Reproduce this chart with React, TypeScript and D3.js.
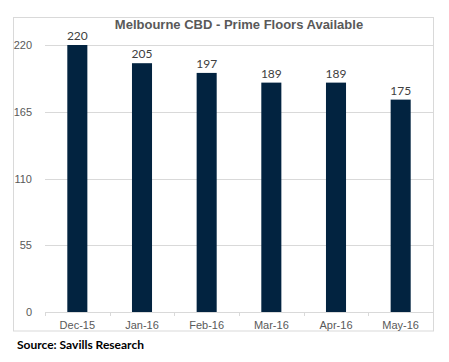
import * as d3 from "d3"
import { useEffect, useRef } from "react"

const months = ["Dec-15", "Jan-16", "Feb-16", "Mar-16", "Apr-16", "May-16"]
const floors = [220, 205, 197, 189, 189, 175]
const yTicks = [0, 55, 110, 165, 220]

export default function App() {
  const ref = useRef<SVGSVGElement>(null)

  useEffect(() => {
    const svg = d3.select(ref.current)
    svg.selectAll("*").remove()

    const width = 449, height = 362
    // plot area
    const left = 45, right = 433, top = 45, bottom = 312

    svg.append("rect")
      .attr("x", 13.5).attr("y", 17.5)
      .attr("width", 420).attr("height", 313.5)
      .attr("fill", "white").attr("stroke", "#d9d9d9")

    const x = d3.scaleBand().domain(months).range([left, right]).paddingInner(0.69).paddingOuter(0.345)
    const y = d3.scaleLinear().domain([0, 220]).range([bottom, top])

    // gridlines
    svg.append("g").selectAll("line").data(yTicks.filter(d => d > 0)).enter().append("line")
      .attr("x1", left).attr("x2", right)
      .attr("y1", d => Math.round(y(d)) + 0.5).attr("y2", d => Math.round(y(d)) + 0.5)
      .attr("stroke", "#d9d9d9")

    // y labels
    svg.append("g").selectAll("text").data(yTicks).enter().append("text")
      .attr("x", 32).attr("y", d => y(d) + 4)
      .attr("text-anchor", "end")
      .attr("font-family", "Liberation Sans, Arial, sans-serif")
      .attr("font-size", 11).attr("fill", "#595959")
      .text(d => d)

    // bars
    svg.append("g").selectAll("rect").data(floors).enter().append("rect")
      .attr("x", (d, i) => x(months[i])!)
      .attr("width", x.bandwidth())
      .attr("y", d => y(d))
      .attr("height", d => bottom - y(d))
      .attr("fill", "#022340")

    // value labels
    svg.append("g").selectAll("text").data(floors).enter().append("text")
      .attr("x", (d, i) => x(months[i])! + x.bandwidth() / 2)
      .attr("y", d => y(d) - 5)
      .attr("text-anchor", "middle")
      .attr("font-family", "Lato, Carlito, sans-serif")
      .attr("font-size", 12).attr("fill", "#404040")
      .text(d => d)

    // x axis
    const step = x.step()
    const xAxis = svg.append("g")
    xAxis.append("line")
      .attr("x1", left).attr("x2", right)
      .attr("y1", bottom + 0.5).attr("y2", bottom + 0.5)
      .attr("stroke", "#d9d9d9")
    xAxis.selectAll(".tk").data(d3.range(months.length + 1)).enter().append("line")
      .attr("x1", i => Math.round(left + i * step) + 0.5).attr("x2", i => Math.round(left + i * step) + 0.5)
      .attr("y1", bottom).attr("y2", bottom + 4)
      .attr("stroke", "#d9d9d9")
    xAxis.selectAll("text").data(months).enter().append("text")
      .attr("x", d => x(d)! + x.bandwidth() / 2)
      .attr("y", bottom + 17)
      .attr("text-anchor", "middle")
      .attr("font-family", "Liberation Sans, Arial, sans-serif")
      .attr("font-size", 11).attr("fill", "#595959")
      .text(d => d)

    // title
    svg.append("text")
      .attr("x", 239).attr("y", 29)
      .attr("text-anchor", "middle")
      .attr("font-family", "Liberation Sans, Arial, sans-serif")
      .attr("font-weight", "bold")
      .attr("font-size", 13).attr("fill", "#595959")
      .text("Melbourne CBD - Prime Floors Available")

    // source
    svg.append("text")
      .attr("x", 17).attr("y", 349)
      .attr("font-family", "Lato, Carlito, sans-serif")
      .attr("font-weight", "bold")
      .attr("font-size", 12).attr("fill", "#000")
      .text("Source: Savills Research")
  }, [])

  return (
    <div style={{ position: "absolute", left: 0, top: 0 }}>
      <svg ref={ref} width={449} height={362} style={{ display: "block", background: "white" }} />
    </div>
  )
}
